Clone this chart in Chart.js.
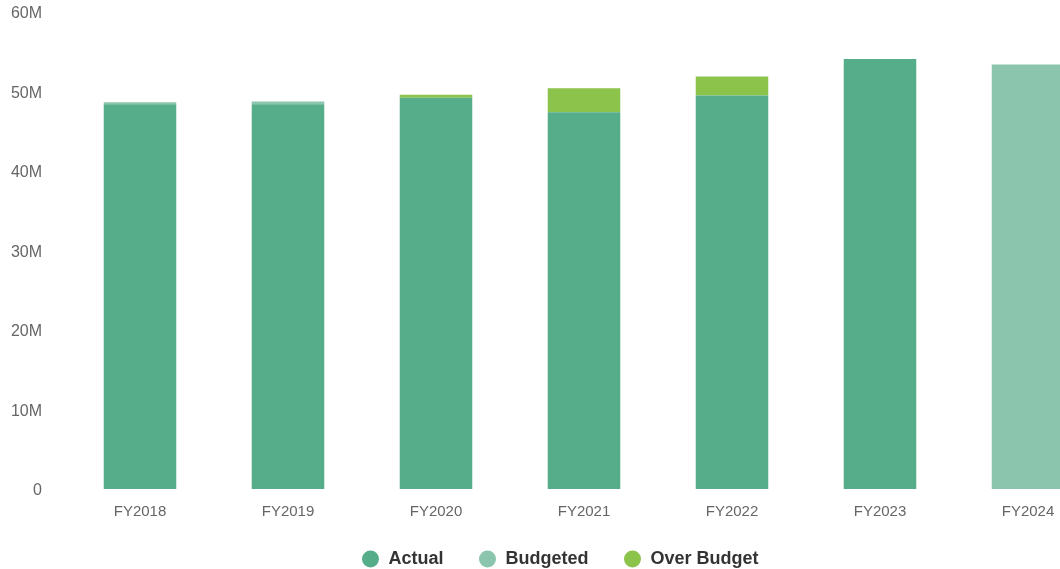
<!DOCTYPE html>
<html>
<head>
<meta charset="utf-8">
<script src="https://cdn.jsdelivr.net/npm/chart.js@4/dist/chart.umd.min.js"></script>
<style>
  html, body { margin: 0; padding: 0; overflow: hidden; background: #fff; }
  #wrap { width: 1120px; height: 569px; position: relative; }
</style>
</head>
<body>
<div id="wrap"><canvas id="chart"></canvas></div>
<script>
// fiscal years on the x axis
const years = ['FY2018', 'FY2019', 'FY2020', 'FY2021', 'FY2022', 'FY2023', 'FY2024'];

// values in millions
const actual     = [48.4, 48.4, 49.2, 47.4, 49.5, 54.1, 0];
const budgeted   = [0.25, 0.35, 0, 0, 0, 0, 53.4];
const overBudget = [0, 0, 0.4, 3.0, 2.4, 0, 0];

const yTicks = [0, 10, 20, 30, 40, 50, 60];

const fmt = v => v === 0 ? '0' : `${v}M`;
const FONT = 'Liberation Sans, Arial, sans-serif';

// squeeze the legend box so it sits close to the axis labels
const legendHeight = {
  id: 'legendHeight',
  beforeInit(chart) {
    const fit = chart.legend.fit;
    chart.legend.fit = function () {
      fit.bind(chart.legend)();
      this.height = 54;
    };
  },
  // labels are clipped to their axis box, so widen the boxes after layout
  afterLayout(chart) {
    chart.scales.y.left = 0;
    chart.scales.x.bottom = chart.height;
  }
};

const ctx = document.getElementById('chart').getContext('2d');
new Chart(ctx, {
  type: 'bar',
  data: {
    labels: years,
    datasets: [
      { label: 'Actual', data: actual, backgroundColor: '#56ad8a' },
      { label: 'Budgeted', data: budgeted, backgroundColor: '#8bc5ad' },
      { label: 'Over Budget', data: overBudget, backgroundColor: '#8cc34b' }
    ]
  },
  plugins: [legendHeight],
  options: {
    responsive: true,
    maintainAspectRatio: false,
    animation: false,
    layout: { padding: { top: 12, right: 18, left: 18, bottom: 0 } },
    datasets: {
      bar: { categoryPercentage: 1, barPercentage: 0.49 }
    },
    plugins: {
      tooltip: { enabled: false },
      legend: {
        position: 'bottom',
        labels: {
          usePointStyle: true,
          pointStyle: 'circle',
          boxWidth: 18,
          boxHeight: 12,
          padding: 35,
          color: '#333',
          font: { family: FONT, size: 18, weight: 'bold' }
        }
      }
    },
    scales: {
      x: {
        stacked: true,
        grid: { display: false, drawTicks: false },
        border: { display: false },
        afterFit: axis => { axis.height = 26; },
        ticks: {
          color: '#666',
          padding: 14,
          font: { family: FONT, size: 15 }
        }
      },
      y: {
        stacked: true,
        min: yTicks[0],
        max: yTicks[yTicks.length - 1],
        afterBuildTicks: axis => { axis.ticks = yTicks.map(v => ({ value: v })); },
        afterFit: axis => {
          axis.width = 48;
          axis.paddingTop = 9;
          axis.paddingBottom = 9;
        },
        grid: { display: false, drawTicks: false },
        border: { display: false },
        ticks: {
          color: '#666',
          padding: 24,
          labelOffset: 2,
          callback: v => fmt(v),
          font: { family: FONT, size: 16 }
        }
      }
    }
  }
});
</script>
</body>
</html>
